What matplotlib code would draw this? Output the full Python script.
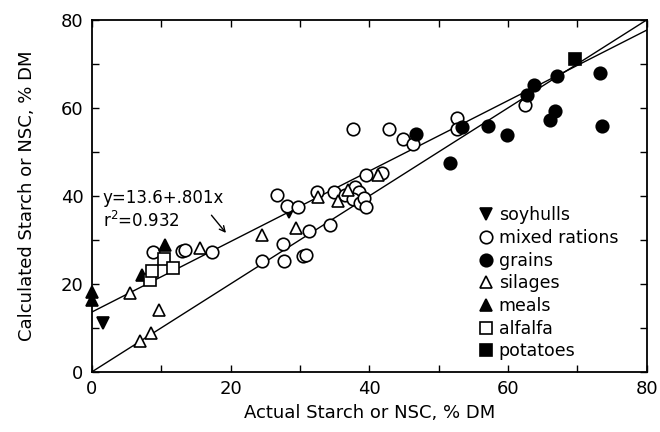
import numpy as np
import matplotlib
matplotlib.use('Agg')
import matplotlib.pyplot as plt
from matplotlib.ticker import MultipleLocator

plt.rcParams['font.family'] = ['DejaVu Sans']

# data (actual, calculated), % DM
soyhulls_x = [1.6, 28.5]
soyhulls_y = [11.1, 36.4]

mixed_x = [8.8, 13.0, 13.5, 17.4, 24.5, 27.7, 30.4, 30.9, 27.5, 31.3, 34.3,
           26.7, 28.2, 29.8, 32.4, 34.9, 36.5, 37.9, 38.5, 37.7, 38.7, 39.3,
           39.5, 39.6, 41.8, 37.6, 42.8, 44.8, 46.3, 52.7, 52.6, 62.4]
mixed_y = [27.3, 27.5, 27.6, 27.3, 25.2, 25.2, 26.4, 26.6, 29.0, 32.0, 33.4,
           40.3, 37.7, 37.5, 40.9, 40.8, 40.2, 42.0, 41.0, 39.2, 38.3, 39.5,
           37.5, 44.8, 45.2, 55.2, 55.2, 53.0, 51.8, 57.7, 55.2, 60.7]

grains_x = [46.7, 51.6, 53.3, 57.1, 59.8, 62.8, 63.8, 67.0, 66.0, 66.7, 73.3, 73.5]
grains_y = [54.1, 47.5, 55.7, 55.9, 53.9, 63.0, 65.2, 67.3, 57.3, 59.3, 68.0, 55.9]

silages_x = [5.5, 6.9, 8.6, 9.7, 15.6, 24.6, 29.5, 32.6, 35.5, 36.9, 41.2]
silages_y = [18.0, 7.1, 8.9, 14.1, 28.2, 31.2, 32.8, 39.7, 38.8, 41.4, 44.8]

meals_x = [0.0, 0.0, 7.2, 10.5]
meals_y = [18.2, 16.4, 22.0, 28.9]

alfalfa_x = [8.4, 8.7, 10.4, 11.7]
alfalfa_y = [20.9, 23.0, 25.6, 23.7]

potatoes_x = [69.7]
potatoes_y = [71.1]

# regression: y = 13.6 + 0.801x, r2 = 0.932
intercept = 13.6
slope = 0.801
line_x = np.array([0, 80])

fig = plt.figure(figsize=(6.6, 4.32), dpi=100)
ax = fig.add_axes([0.139, 0.139, 0.841, 0.815])

ax.plot(line_x, intercept + slope * line_x, color='black', lw=1.0, zorder=1)
ax.plot(line_x, line_x, color='black', lw=1.0, zorder=1)

ms = 9
kw = dict(linestyle='none', markersize=ms, markeredgecolor='black', markeredgewidth=1.2)
ax.plot(soyhulls_x, soyhulls_y, marker='v', color='black', label='soyhulls', **kw)
ax.plot(mixed_x, mixed_y, marker='o', markerfacecolor='white', color='black', label='mixed rations', **kw)
ax.plot(grains_x, grains_y, marker='o', color='black', label='grains', **kw)
ax.plot(silages_x, silages_y, marker='^', markerfacecolor='white', color='black', label='silages', **kw)
ax.plot(meals_x, meals_y, marker='^', color='black', label='meals', clip_on=False, **kw)
ax.plot(alfalfa_x, alfalfa_y, marker='s', markerfacecolor='white', color='black', label='alfalfa', **kw)
ax.plot(potatoes_x, potatoes_y, marker='s', color='black', label='potatoes', **kw)

ax.text(1.6, 39.6, 'y=13.6+.801x', fontsize=12, va='center', ha='left')
ax.text(1.6, 34.2, r'r$^2$=0.932', fontsize=12, va='center', ha='left')
ax.annotate('', xy=(19.6, 31.1), xytext=(17.0, 36.1),
            arrowprops=dict(arrowstyle='->', color='black', lw=1.0))

ax.set_xlim(0, 80)
ax.set_ylim(0, 80)
ax.xaxis.set_major_locator(MultipleLocator(20))
ax.yaxis.set_major_locator(MultipleLocator(20))
ax.xaxis.set_minor_locator(MultipleLocator(10))
ax.yaxis.set_minor_locator(MultipleLocator(10))
ax.tick_params(which='both', direction='in', top=True, right=True, length=5, width=1.0,
               labelsize=13, pad=6)
for s in ax.spines.values():
    s.set_linewidth(1.3)

ax.set_xlabel('Actual Starch or NSC, % DM', fontsize=13, labelpad=4)
ax.set_ylabel('Calculated Starch or NSC, % DM', fontsize=13, labelpad=18)

leg = ax.legend(loc='upper left', bbox_to_anchor=(0.683, 0.495), frameon=False,
                fontsize=12.5, handlelength=0.8, handletextpad=0.3,
                labelspacing=0.27, borderpad=0, markerscale=1.0)

fig.savefig('out.png', dpi=100)
